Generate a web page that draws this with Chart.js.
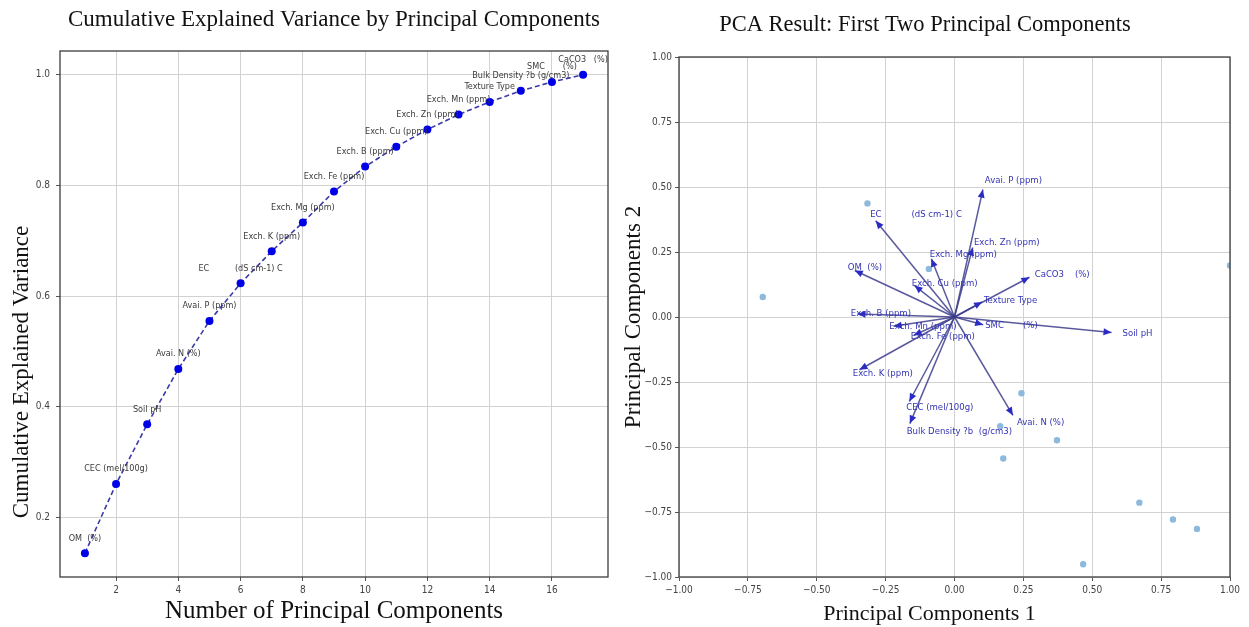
<!DOCTYPE html>
<html>
<head>
<meta charset="utf-8">
<script src="https://cdn.jsdelivr.net/npm/chart.js@4.4.1/dist/chart.umd.min.js"></script>
<style>
html,body{margin:0;padding:0;background:#fff;}
#wrap{position:relative;width:1249px;height:627px;background:#fff;overflow:hidden;}
#c1{position:absolute;left:0;top:0;}
#c2{position:absolute;left:620px;top:0;}
</style>
</head>
<body>
<div id="wrap">
<canvas id="c1" width="620" height="627"></canvas>
<canvas id="c2" width="629" height="627"></canvas>
</div>
<script>
// ---------- Left chart data ----------
const components = [1, 2, 3, 4, 5, 6, 7, 8, 9, 10, 11, 12, 13, 14, 15, 16, 17];
const cumVariance = [0.135, 0.260, 0.368, 0.468, 0.555, 0.623, 0.681, 0.733, 0.789, 0.834, 0.870, 0.901, 0.928, 0.951, 0.971, 0.987, 1.000];
const componentLabels = [
  "OM  (%)", "CEC (mel/100g)", "Soil pH", "Avai. N (%)", "Avai. P (ppm)",
  "EC          (dS cm-1) C", "Exch. K (ppm)", "Exch. Mg (ppm)", "Exch. Fe (ppm)",
  "Exch. B (ppm)", "Exch. Cu (ppm)", "Exch. Zn (ppm)", "Exch. Mn (ppm)",
  "Texture Type", "Bulk Density ?b (g/cm3)", "SMC       (%)", "CaCO3   (%)"
];
const leftXTicks = [2, 4, 6, 8, 10, 12, 14, 16];
const leftYTicks = [0.2, 0.4, 0.6, 0.8, 1.0];

// ---------- Right chart data ----------
const loadingNames = [
  "OM  (%)", "EC           (dS cm-1) C", "Avai. P (ppm)", "Exch. Zn (ppm)", "Exch. Mg (ppm)",
  "Exch. Cu (ppm)", "CaCO3    (%)", "Texture Type", "Exch. B (ppm)", "Exch. Mn (ppm)",
  "Exch. Fe (ppm)", "SMC       (%)", "Soil pH", "Exch. K (ppm)", "CEC (mel/100g)",
  "Bulk Density ?b  (g/cm3)", "Avai. N (%)"
];
const pc1Loadings = [-0.362, -0.286, 0.103, 0.066, -0.084, -0.145, 0.272, 0.100, -0.352, -0.221, -0.148, 0.104, 0.570, -0.345, -0.164, -0.162, 0.212];
const pc2Loadings = [0.179, 0.370, 0.490, 0.267, 0.224, 0.121, 0.153, 0.058, 0.012, -0.036, -0.070, -0.030, -0.060, -0.203, -0.325, -0.410, -0.378];
const scoresPC1 = [-0.696, -0.316, -0.093, 1.000, 0.243, 0.166, 0.372, 0.177, 0.671, 0.793, 0.880, 0.467];
const scoresPC2 = [0.077, 0.437, 0.185, 0.198, -0.293, -0.420, -0.474, -0.544, -0.714, -0.779, -0.815, -0.951];
const pcaTicks = [-1.0, -0.75, -0.5, -0.25, 0.0, 0.25, 0.5, 0.75, 1.0];

// ---------- Styling ----------
const SERIF = "'Liberation Serif','Times New Roman',serif";
const NARROW = "'Liberation Sans Narrow','DejaVu Sans Condensed','Arial Narrow','DejaVu Sans',sans-serif";
const GRID = '#d2d2d2';

const framePlugin = {
  id: 'frame',
  afterDatasetsDraw(chart) {
    const {ctx, chartArea: a} = chart;
    ctx.save();
    ctx.strokeStyle = '#3c3c3c';
    ctx.lineWidth = 1.3;
    ctx.strokeRect(a.left, a.top, a.right - a.left, a.bottom - a.top);
    ctx.restore();
  }
};

// axis title drawn with an offset from the centre of the plot area
function offsetAxisTitle(id, text, size, vertical, pos) {
  return {
    id,
    afterDraw(chart) {
      const {ctx, chartArea: a} = chart;
      ctx.save();
      ctx.font = size + 'px ' + SERIF;
      ctx.fillStyle = '#111';
      ctx.textAlign = 'center';
      ctx.textBaseline = 'middle';
      if (vertical) {
        ctx.translate(pos.x, (a.top + a.bottom) / 2 + pos.shift);
        ctx.rotate(-Math.PI / 2);
        ctx.fillText(text, 0, 0);
      } else {
        ctx.fillText(text, (a.left + a.right) / 2 + pos.shift, pos.y);
      }
      ctx.restore();
    }
  };
}

const pointLabelPlugin = {
  id: 'pointLabels',
  afterDatasetsDraw(chart) {
    const {ctx, scales: {x, y}} = chart;
    ctx.save();
    ctx.font = '9px ' + NARROW;
    ctx.fillStyle = '#3a3a3a';
    ctx.textAlign = 'center';
    ctx.textBaseline = 'middle';
    components.forEach((c, i) => {
      ctx.fillText(componentLabels[i], x.getPixelForValue(c), y.getPixelForValue(cumVariance[i]) - 15);
    });
    ctx.restore();
  }
};

const biplotPlugin = {
  id: 'biplot',
  afterDatasetsDraw(chart) {
    const {ctx, scales: {x, y}} = chart;
    const ox = x.getPixelForValue(0), oy = y.getPixelForValue(0);
    ctx.save();
    loadingNames.forEach((name, i) => {
      const tx = x.getPixelForValue(pc1Loadings[i]);
      const ty = y.getPixelForValue(pc2Loadings[i]);
      const dx = tx - ox, dy = ty - oy;
      const len = Math.hypot(dx, dy) || 1;
      const ux = dx / len, uy = dy / len;
      const L = 8, W = 3.5;
      ctx.beginPath();
      ctx.moveTo(tx, ty);
      ctx.lineTo(tx - L * ux - W * uy, ty - L * uy + W * ux);
      ctx.lineTo(tx - L * ux + W * uy, ty - L * uy - W * ux);
      ctx.closePath();
      ctx.fillStyle = '#2b2bc4';
      ctx.fill();
      ctx.font = '9.5px ' + NARROW;
      ctx.fillStyle = '#3434b4';
      ctx.textAlign = 'left';
      ctx.textBaseline = 'middle';
      ctx.fillText(name, x.getPixelForValue(pc1Loadings[i] * 1.07), y.getPixelForValue(pc2Loadings[i] * 1.07));
    });
    ctx.restore();
  }
};

// ---------- Left chart ----------
new Chart(document.getElementById('c1'), {
  type: 'line',
  data: {
    datasets: [{
      data: components.map((c, i) => ({x: c, y: cumVariance[i]})),
      borderColor: '#3a3aa8',
      borderWidth: 1.6,
      borderDash: [5, 3],
      pointRadius: 4,
      pointBackgroundColor: '#0000e6',
      pointBorderWidth: 0,
      tension: 0,
      fill: false
    }]
  },
  options: {
    responsive: false,
    animation: false,
    events: [],
    layout: {padding: {left: 0, right: 12, top: 0, bottom: 0}},
    plugins: {
      legend: {display: false},
      tooltip: {enabled: false},
      title: {
        display: true,
        text: 'Cumulative Explained Variance by Principal Components',
        fullSize: false,
        color: '#111',
        font: {family: SERIF, size: 23, weight: 'normal'},
        padding: {top: 6, bottom: 17.4}
      }
    },
    scales: {
      x: {
        type: 'linear',
        min: 0.2, max: 17.8,
        afterBuildTicks: s => { s.ticks = leftXTicks.map(v => ({value: v})); },
        afterFit: s => { s.height = 50; },
        grid: {color: GRID, tickColor: '#555', tickLength: 4},
        border: {display: false},
        ticks: {color: '#444', padding: 3, font: {family: NARROW, size: 10}, callback: v => String(v)},
        title: {display: true, text: 'Number of Principal Components', color: '#111',
                font: {family: SERIF, size: 25, weight: 'normal'}, padding: {top: 0, bottom: 1}}
      },
      y: {
        type: 'linear',
        min: 0.092, max: 1.043,
        afterBuildTicks: s => { s.ticks = leftYTicks.map(v => ({value: v})); },
        afterFit: s => { s.width = 60; },
        grid: {color: GRID, tickColor: '#555', tickLength: 4},
        border: {display: false},
        ticks: {color: '#444', padding: 6, font: {family: NARROW, size: 10}, callback: v => Number(v).toFixed(1)}
      }
    }
  },
  plugins: [framePlugin, pointLabelPlugin,
            offsetAxisTitle('yTitleLeft', 'Cumulative Explained Variance', 23, true, {x: 22, shift: 58})]
});

// ---------- Right chart ----------
const arrowDatasets = loadingNames.map((n, i) => ({
  type: 'line',
  data: [{x: 0, y: 0}, {x: pc1Loadings[i], y: pc2Loadings[i]}],
  borderColor: 'rgba(60,60,140,0.85)',
  borderWidth: 1.5,
  pointRadius: 0,
  fill: false,
  tension: 0
}));

new Chart(document.getElementById('c2'), {
  type: 'scatter',
  data: {
    datasets: [
      ...arrowDatasets,
      {
        type: 'scatter',
        data: scoresPC1.map((v, i) => ({x: v, y: scoresPC2[i]})),
        backgroundColor: '#8cb9dc',
        borderWidth: 0,
        pointRadius: 3.2,
        clip: 0
      }
    ]
  },
  options: {
    responsive: false,
    animation: false,
    events: [],
    layout: {padding: {left: 0, right: 19, top: 0, bottom: 0}},
    plugins: {
      legend: {display: false},
      tooltip: {enabled: false},
      title: {
        display: true,
        text: 'PCA Result: First Two Principal Components',
        color: '#111',
        font: {family: SERIF, size: 22.5, weight: 'normal'},
        padding: {top: 11.5, bottom: 18.5}
      }
    },
    scales: {
      x: {
        type: 'linear',
        min: -1, max: 1,
        afterBuildTicks: s => { s.ticks = pcaTicks.map(v => ({value: v})); },
        afterFit: s => { s.height = 50; },
        grid: {color: GRID, tickColor: '#555', tickLength: 4},
        border: {display: false},
        ticks: {color: '#444', padding: 3, font: {family: NARROW, size: 10},
                callback: v => (v < 0 ? '\u2212' : '') + Math.abs(v).toFixed(2)}
      },
      y: {
        type: 'linear',
        min: -1, max: 1,
        afterBuildTicks: s => { s.ticks = pcaTicks.map(v => ({value: v})); },
        afterFit: s => { s.width = 59; },
        grid: {color: GRID, tickColor: '#555', tickLength: 4},
        border: {display: false},
        ticks: {color: '#444', padding: 3, font: {family: NARROW, size: 10},
                callback: v => (v < 0 ? '\u2212' : '') + Math.abs(v).toFixed(2)},
        title: {display: true, text: 'Principal Components 2', color: '#111',
                font: {family: SERIF, size: 23, weight: 'normal'}, padding: {top: 0, bottom: 0}}
      }
    }
  },
  plugins: [framePlugin, biplotPlugin,
            offsetAxisTitle('xTitleRight', 'Principal Components 1', 22, false, {y: 614, shift: -25})]
});
</script>
</body>
</html>
